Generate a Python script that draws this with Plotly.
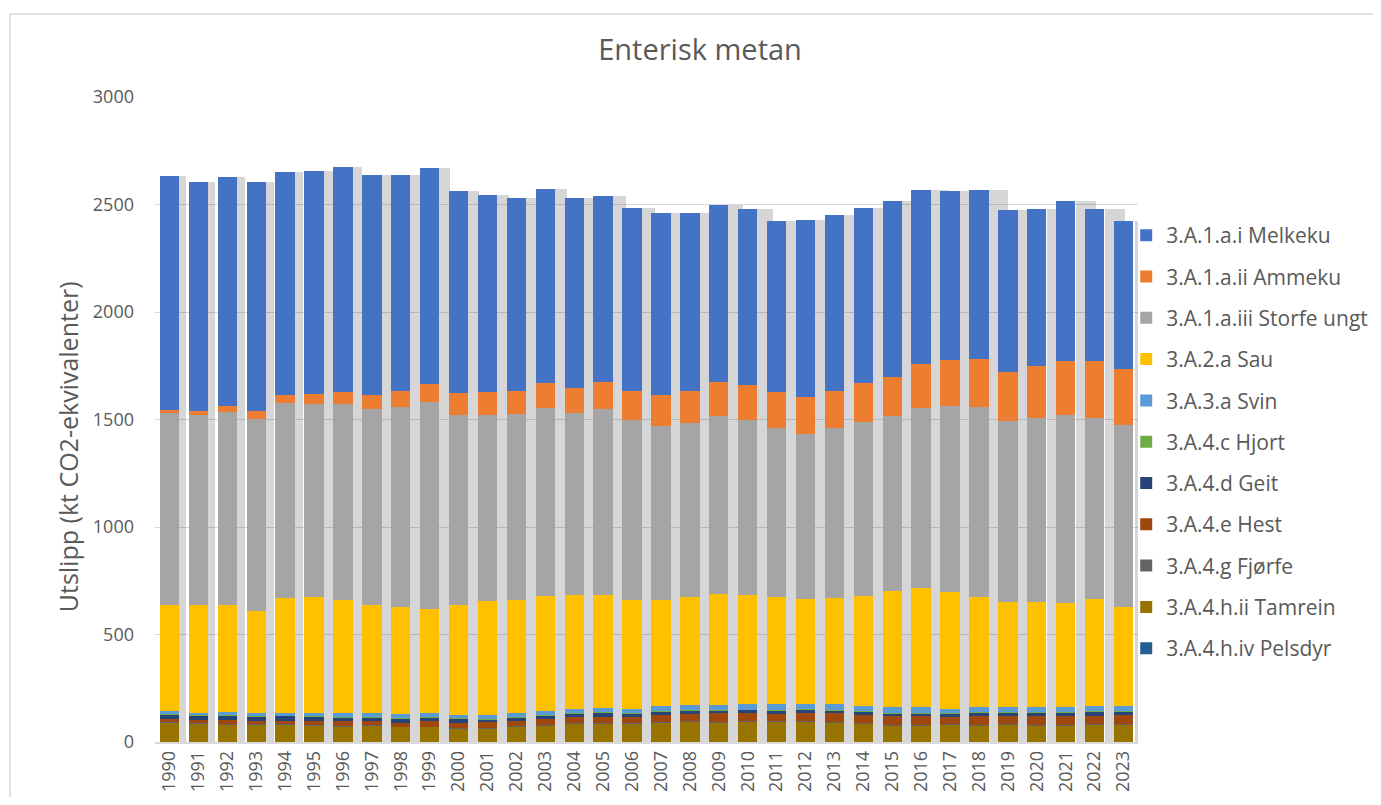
import plotly.graph_objects as go

years = [str(y) for y in range(1990, 2024)]

melkeku = [1086, 1065, 1065, 1065, 1036, 1037, 1046, 1023, 1004, 1003, 937, 913, 899, 899, 885, 867, 851,
           846, 827, 825, 819, 794, 821, 818, 813, 817, 808, 790, 785, 752, 733, 745, 708, 686]
ammeku = [18, 19, 30, 34, 37, 47, 56, 67, 75, 86, 104, 109, 109, 118, 118, 127, 134,
          144, 148, 156, 161, 168, 172, 173, 181, 184, 205, 214, 223, 228, 242, 253, 263, 260]
storfe_ungt = [893, 883, 897, 893, 909, 898, 913, 911, 929, 961, 883, 865, 865, 873, 845, 863, 840,
               811, 811, 830, 815, 786, 769, 792, 811, 813, 836, 863, 883, 844, 854, 873, 844, 847]
sau = [489, 500, 495, 475, 532, 538, 526, 503, 500, 487, 512, 530, 526, 536, 532, 527, 504,
       493, 503, 517, 509, 499, 489, 493, 513, 541, 555, 543, 513, 489, 489, 484, 498, 463]
svin = [17, 13, 16, 17, 13, 16, 17, 17, 19, 17, 15, 18, 17, 18, 18, 18, 21,
        24, 23, 23, 24, 28, 22, 28, 24, 28, 27, 22, 24, 24, 24, 24, 24, 24]
hjort = [1, 1, 1, 1, 1, 1, 1, 1, 1, 1, 1, 1, 1, 1, 1, 1, 1,
         1, 1, 1, 1, 1, 1, 1, 1, 1, 1, 1, 1, 1, 1, 1, 1, 1]
geit = [20, 19, 20, 19, 23, 20, 19, 19, 19, 19, 19, 15, 16, 16, 15, 20, 15,
        14, 14, 14, 14, 14, 16, 14, 14, 14, 15, 14, 14, 14, 14, 14, 19, 15]
hest = [15, 15, 20, 15, 15, 20, 20, 17, 18, 24, 24, 28, 26, 29, 28, 28, 28,
        35, 35, 39, 39, 35, 38, 39, 38, 39, 39, 34, 43, 39, 43, 43, 39, 42]
fjorfe = [2, 2, 2, 2, 2, 2, 2, 2, 2, 2, 2, 2, 2, 2, 2, 2, 2,
          2, 2, 2, 2, 2, 2, 2, 2, 2, 2, 2, 2, 2, 2, 2, 2, 2]
tamrein = [90, 86, 81, 81, 81, 77, 73, 77, 69, 69, 63, 60, 70, 77, 87, 87, 87,
           89, 94, 91, 94, 94, 95, 91, 86, 77, 77, 81, 77, 81, 77, 77, 81, 81]
pelsdyr = [1, 1, 1, 1, 1, 1, 1, 1, 1, 1, 1, 1, 1, 1, 1, 1, 1,
           1, 1, 1, 1, 1, 1, 1, 1, 1, 1, 1, 1, 1, 1, 1, 1, 1]

# bottom-to-top stacking order
series = [
    ("3.A.4.h.iv Pelsdyr", pelsdyr, "#255E91"),
    ("3.A.4.h.ii Tamrein", tamrein, "#997300"),
    ("3.A.4.g Fjørfe", fjorfe, "#636363"),
    ("3.A.4.e Hest", hest, "#9E480E"),
    ("3.A.4.d Geit", geit, "#264478"),
    ("3.A.4.c Hjort", hjort, "#70AD47"),
    ("3.A.3.a Svin", svin, "#5B9BD5"),
    ("3.A.2.a Sau", sau, "#FFC000"),
    ("3.A.1.a.iii Storfe ungt", storfe_ungt, "#A5A5A5"),
    ("3.A.1.a.ii Ammeku", ammeku, "#ED7D31"),
    ("3.A.1.a.i Melkeku", melkeku, "#4472C4"),
]

FONT = "Open Sans, Noto Sans, sans-serif"
GREY = "#595959"
N = len(years)

totals = [sum(s[1][i] for s in series) for i in range(N)]

fig = go.Figure()
# soft drop shadow behind the stacks (drawn on a slightly shifted axis)
fig.add_trace(go.Bar(x=years, y=totals, xaxis="x", yaxis="y", showlegend=False,
                     hoverinfo="skip", marker=dict(color="rgba(0,0,0,0.16)", line=dict(width=0))))
for i, (name, vals, col) in enumerate(series):
    fig.add_trace(go.Bar(x=years, y=vals, name=name, legendgroup=name, legendrank=100 - i,
                         xaxis="x2", yaxis="y",
                         marker=dict(color=col, line=dict(width=0))))

fig.update_layout(
    width=1365, height=789,
    barmode="stack", bargap=0.33,
    paper_bgcolor="white", plot_bgcolor="white",
    margin=dict(l=147, r=235, t=89, b=55, autoexpand=False),
    font=dict(family=FONT, color=GREY, size=17),
    title=dict(text="Enterisk metan", x=0.507, xanchor="center", y=0.947, yanchor="middle",
               font=dict(size=29, color=GREY, family=FONT)),
    legend=dict(x=0.988, xanchor="left", y=0.817, yanchor="top",
                traceorder="grouped", tracegroupgap=11,
                font=dict(size=21, color=GREY, family=FONT),
                bgcolor="rgba(0,0,0,0)"),
    xaxis=dict(type="category", range=[-0.72, N - 1.22], showgrid=False, showline=False,
               showticklabels=False, ticks=""),
    xaxis2=dict(type="category", range=[-0.5, N - 0.5], overlaying="x", side="bottom", anchor="y",
                tickangle=-90, showgrid=False,
                showline=True, linecolor="#D9D9D9", linewidth=1.5,
                ticks="", tickfont=dict(size=18, color=GREY)),
    yaxis=dict(range=[0, 3000], dtick=500, showgrid=True, gridcolor="#D9D9D9", gridwidth=1,
               zeroline=False, ticks="", ticklabelstandoff=20,
               tickfont=dict(size=18, color=GREY)),
    annotations=[dict(text="Utslipp (kt CO2-ekvivalenter)", textangle=-90,
                      xref="paper", yref="paper", x=-0.0885, y=0.457,
                      xanchor="center", yanchor="middle", showarrow=False,
                      font=dict(size=25, color=GREY, family=FONT))],
    shapes=[dict(type="rect", xref="paper", yref="paper",
                 x0=-0.1475, x1=1.30, y0=-0.2, y1=1.1287,
                 line=dict(color="#D9D9D9", width=1.5), fillcolor="rgba(0,0,0,0)", layer="below")],
)

fig.write_html("out.html")
